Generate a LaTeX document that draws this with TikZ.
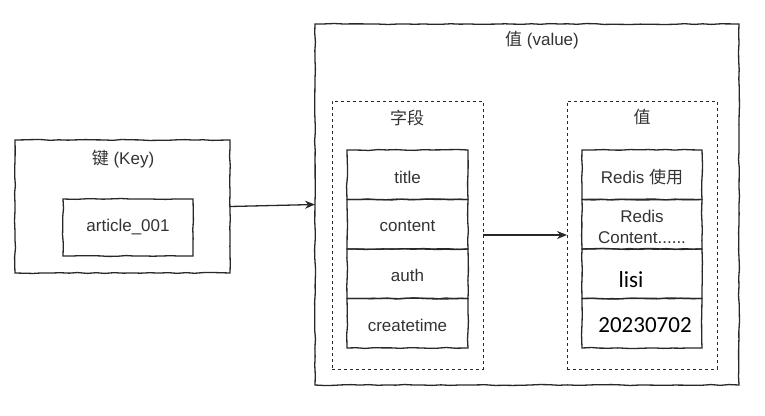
\documentclass[tikz,border=0pt]{standalone}
\usepackage{fontspec}
\setmainfont{Liberation Sans}
\newfontfamily\cjk{Noto Sans CJK SC}
\newfontfamily\calib{Carlito}
\usetikzlibrary{arrows.meta,decorations.pathmorphing}
\definecolor{txt}{RGB}{51,51,51}
\definecolor{ln}{RGB}{40,40,40}
\tikzset{
  x=1pt, y=-1pt,
  sketch/.style={draw=ln, line width=1.3pt, inner sep=0pt, outer sep=0pt,
    decorate, decoration={random steps, segment length=9pt, amplitude=0.5pt}},
  dashbox/.style={draw=ln, line width=1pt, dash pattern=on 3pt off 3pt, inner sep=0pt, outer sep=0pt},
  rowbox/.style={sketch, minimum width=121pt, minimum height=49.5pt},
  lbl/.style={text=txt, font=\fontsize{17}{20}\selectfont, inner sep=0pt},
  big/.style={text=black, font=\calib\fontsize{23}{26}\selectfont, inner sep=0pt},
  conn/.style={draw=ln, line width=1.3pt, -{Stealth[length=10pt,width=8pt]}}
}
\begin{document}
\begin{tikzpicture}
\useasboundingbox (0,0) rectangle (765,415);
% key side
\node[sketch, minimum width=215pt, minimum height=133pt] (keybox) at (122.5,206.5) {};
\node[lbl] (keylbl) at (123,159) {{\cjk 键} (Key)};
\node[sketch, minimum width=130pt, minimum height=57pt] (artbox) at (128,227.5) {};
\node[lbl] (art) at (128,227.5) {article\_001};
% value side
\node[sketch, minimum width=424pt, minimum height=361pt] (valbox) at (527,204.5) {};
\node[lbl] (vallbl) at (542,40) {{\cjk 值} (value)};
\node[dashbox, minimum width=151pt, minimum height=268pt] (fields) at (407.5,235) {};
\node[lbl] (fieldslbl) at (407,118) {\cjk 字段};
\node[dashbox, minimum width=150pt, minimum height=268pt] (vals) at (642,235) {};
\node[lbl] (valslbl) at (642,117) {\cjk 值};
% field rows
\node[rowbox] (f1) at (407.5,174.75) {};
\node[rowbox] (f2) at (407.5,224.25) {};
\node[rowbox] (f3) at (407.5,273.75) {};
\node[rowbox] (f4) at (407.5,323.25) {};
\node[lbl] (t1) at (407.5,177) {title};
\node[lbl] (t2) at (407.5,226) {content};
\node[lbl] (t3) at (407.5,275) {auth};
\node[lbl] (t4) at (407.5,325) {createtime};
% value rows
\node[rowbox, minimum width=120pt] (v1) at (642,174.75) {};
\node[rowbox, minimum width=120pt] (v2) at (642,224.25) {};
\node[rowbox, minimum width=120pt] (v3) at (642,273.75) {};
\node[rowbox, minimum width=120pt] (v4) at (642,323.25) {};
\node[lbl] (u1) at (642,177) {Redis {\cjk 使用}};
\node[lbl, align=center, font=\fontsize{17}{21}\selectfont] (u2) at (642,226.5) {Redis\\Content......};
\node[big, anchor=base] (u3) at (631,287) {lisi};
\node[big] (u4) at (645,325) {20230702};
% connectors
\draw[conn] (keybox.east) -- (valbox.west);
\draw[conn] (fields.east) -- (vals.west);
\end{tikzpicture}
\end{document}
